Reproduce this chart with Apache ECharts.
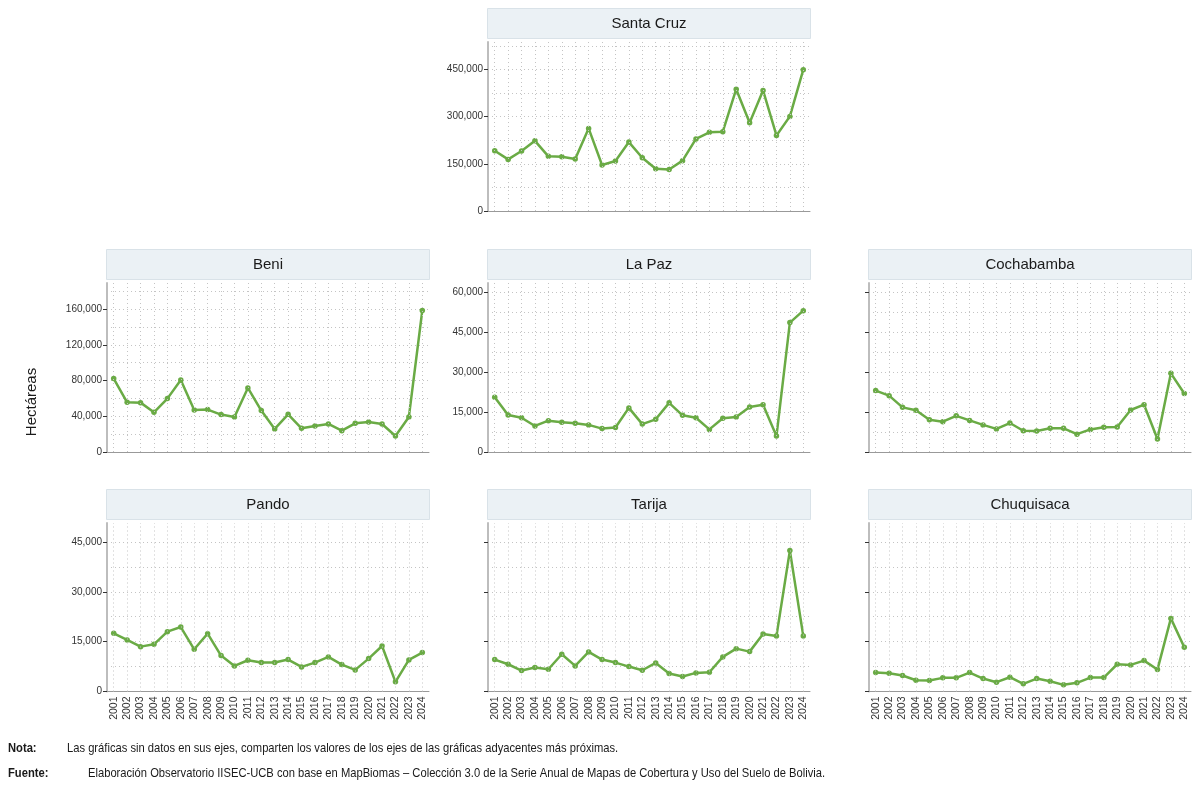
<!DOCTYPE html>
<html>
<head>
<meta charset="utf-8">
<script src="https://cdn.jsdelivr.net/npm/echarts@6/dist/echarts.min.js"></script>
<style>
  html, body { margin: 0; padding: 0; background: #fff; }
  #chart { width: 1200px; height: 789px; }
</style>
</head>
<body>
<div id="chart"></div>
<script>
// años (eje x)
var years = ['2001', '2002', '2003', '2004', '2005', '2006', '2007', '2008', '2009', '2010', '2011', '2012',
  '2013', '2014', '2015', '2016', '2017', '2018', '2019', '2020', '2021', '2022', '2023', '2024'];

// hectáreas por departamento
var santaCruz = [191600, 164000, 190500, 223000, 173600, 172500, 165000, 262500, 146000, 159000, 219000, 169000,
  134000, 132000, 160000, 229000, 250000, 252000, 387000, 280500, 383000, 240000, 300600, 449000];
var beni = [82200, 55700, 55300, 44500, 59800, 80700, 47100, 47500, 41900, 39300, 71800, 46400,
  25800, 42200, 26500, 29200, 31400, 23900, 32100, 33600, 31400, 17900, 39300, 158500];
var laPaz = [20600, 13900, 12900, 9800, 11800, 11200, 10800, 10200, 8800, 9200, 16600, 10500,
  12300, 18500, 13800, 12900, 8500, 12700, 13200, 16900, 17800, 6000, 48700, 53200];
var cochabamba = [23100, 21200, 16800, 15700, 12100, 11400, 13600, 11900, 10200, 8700, 10900, 8000,
  7900, 8900, 8900, 6700, 8500, 9300, 9400, 15800, 17800, 4900, 29600, 22000];
var pando = [17500, 15500, 13500, 14200, 18000, 19400, 12700, 17400, 10800, 7700, 9400, 8700,
  8700, 9600, 7400, 8700, 10400, 8100, 6500, 9900, 13700, 2900, 9500, 11700];
var tarija = [9600, 8200, 6300, 7200, 6700, 11200, 7700, 11900, 9600, 8700, 7500, 6400,
  8600, 5400, 4500, 5600, 5800, 10400, 12900, 12000, 17300, 16700, 42400, 16700];
var chuquisaca = [5700, 5500, 4800, 3400, 3300, 4100, 4100, 5700, 3900, 2800, 4300, 2300,
  3900, 3100, 2000, 2600, 4200, 4200, 8200, 8000, 9300, 6600, 22000, 13300];

// disposición de los paneles
var panels = [
  { name: 'Santa Cruz', data: santaCruz, left: 488, top: 42, height: 169, max: 537000, step: 150000, yLab: true, xLab: false },
  { name: 'Beni', data: beni, left: 107, top: 283, height: 169, max: 189300, step: 40000, yLab: true, xLab: false },
  { name: 'La Paz', data: laPaz, left: 488, top: 283, height: 169, max: 63600, step: 15000, yLab: true, xLab: false },
  { name: 'Cochabamba', data: cochabamba, left: 869, top: 283, height: 169, max: 63600, step: 15000, yLab: false, xLab: false },
  { name: 'Pando', data: pando, left: 107, top: 523, height: 168.5, max: 50700, step: 15000, yLab: true, xLab: true },
  { name: 'Tarija', data: tarija, left: 488, top: 523, height: 168.5, max: 50700, step: 15000, yLab: false, xLab: true },
  { name: 'Chuquisaca', data: chuquisaca, left: 869, top: 523, height: 168.5, max: 50700, step: 15000, yLab: false, xLab: true }
];

var W = 322;
var green = '#6aab45';
var dotted = { type: [1, 3], color: '#c4c4c4', width: 1 };
var font = 'Liberation Sans, Arial, sans-serif';

var chart = echarts.init(document.getElementById('chart'));
var option = { animation: false, grid: [], xAxis: [], yAxis: [], series: [], graphic: [] };

panels.forEach(function (p, i) {
  var majors = [];
  for (var v = 0; v <= p.max; v += p.step) majors.push(v);

  option.grid.push({ left: p.left, top: p.top, width: W, height: p.height });

  option.xAxis.push({
    type: 'category', gridIndex: i, data: years, boundaryGap: true,
    axisLine: { lineStyle: { color: '#999', width: 1 } },
    axisTick: { alignWithLabel: true, length: 4, lineStyle: { color: '#333' } },
    axisLabel: { show: p.xLab, rotate: 90, interval: 0, fontSize: 10.5, color: '#333', margin: 5, fontFamily: font },
    splitLine: { show: false }
  });

  // eje de líneas guía (mayores y menores)
  option.yAxis.push({
    type: 'value', gridIndex: i, position: 'left', min: 0, max: p.max, interval: p.step / 2,
    axisLine: { show: false }, axisTick: { show: false }, axisLabel: { show: false },
    splitLine: { show: true, showMinLine: false, showMaxLine: false, lineStyle: dotted }
  });
  // eje con marcas y etiquetas
  option.yAxis.push({
    type: 'value', gridIndex: i, position: 'left', min: 0, max: p.max, interval: p.step,
    axisLine: { show: true, lineStyle: { color: '#bdbdbd', width: 2 } },
    axisTick: { show: true, length: 4, customValues: majors, lineStyle: { color: '#333' } },
    axisLabel: {
      show: p.yLab, customValues: majors, fontSize: 10, color: '#333', margin: 5, fontFamily: font,
      formatter: function (val) { return val.toLocaleString('en-US'); }
    },
    splitLine: { show: false }
  });

  // líneas verticales punteadas en cada año
  option.series.push({
    type: 'line', xAxisIndex: i, yAxisIndex: 2 * i, data: [], z: 1, silent: true,
    markLine: {
      silent: true, symbol: 'none', label: { show: false }, lineStyle: dotted,
      emphasis: { disabled: true },
      data: years.map(function (y) { return { xAxis: y }; })
    }
  });

  option.series.push({
    type: 'line', name: p.name, xAxisIndex: i, yAxisIndex: 2 * i + 1, data: p.data, z: 3,
    symbol: 'circle', symbolSize: 5.5,
    lineStyle: { color: green, width: 2.5 },
    itemStyle: { color: green }
  });

  // cabecera del panel
  option.graphic.push({
    type: 'rect', left: p.left - 1, top: p.top - 34, silent: true,
    shape: { width: W + 1, height: 30 },
    style: { fill: '#ebf1f5', stroke: '#d9e2e8', lineWidth: 1 }
  });
  option.graphic.push({
    type: 'text', x: p.left + W / 2, y: p.top - 18.5, silent: true,
    style: { text: p.name, fontSize: 15, fill: '#1a1a1a', fontFamily: font, align: 'center', verticalAlign: 'middle' }
  });
});

option.graphic.push({
  type: 'text', x: 32, y: 402, rotation: Math.PI / 2, silent: true,
  style: { text: 'Hectáreas', fontSize: 15, fill: '#1a1a1a', fontFamily: font, align: 'center', verticalAlign: 'middle' }
});

// notas al pie (texto estrecho)
var notes = [
  { x: 8, y: 748, text: 'Nota:', bold: true },
  { x: 67, y: 748, text: 'Las gráficas sin datos en sus ejes, comparten los valores de los ejes de las gráficas adyacentes más próximas.' },
  { x: 8, y: 773, text: 'Fuente:', bold: true },
  { x: 88, y: 773, text: 'Elaboración Observatorio IISEC-UCB con base en MapBiomas – Colección 3.0 de la Serie Anual de Mapas de Cobertura y Uso del Suelo de Bolivia.' }
];
notes.forEach(function (n) {
  option.graphic.push({
    type: 'text', x: n.x, y: n.y, scaleX: 0.86, silent: true,
    style: { text: n.text, fontSize: 13, fontWeight: n.bold ? 'bold' : 'normal', fill: '#1a1a1a', fontFamily: font, verticalAlign: 'middle' }
  });
});

chart.setOption(option);
</script>
</body>
</html>
